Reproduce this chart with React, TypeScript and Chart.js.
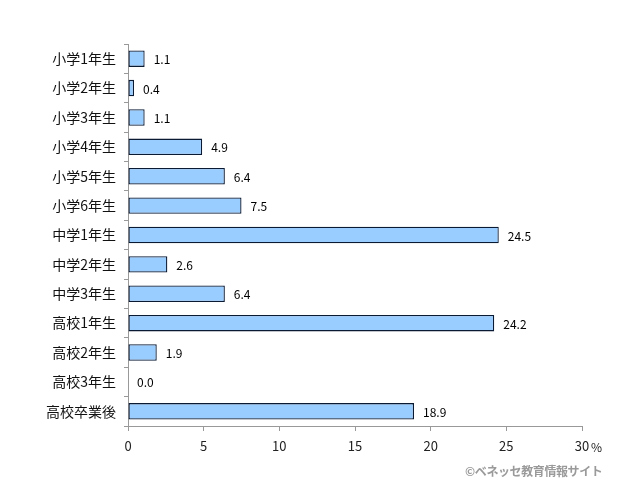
import React, { useEffect, useRef } from "react";
import { Chart, registerables } from "chart.js";

Chart.register(...registerables);

const categories = [
  "小学1年生", "小学2年生", "小学3年生", "小学4年生", "小学5年生", "小学6年生",
  "中学1年生", "中学2年生", "中学3年生", "高校1年生", "高校2年生", "高校3年生", "高校卒業後",
];
const values = [1.1, 0.4, 1.1, 4.9, 6.4, 7.5, 24.5, 2.6, 6.4, 24.2, 1.9, 0.0, 18.9];
const xTicks = [0, 5, 10, 15, 20, 25, 30];
const unitLabel = "%";
const credit = "©ベネッセ教育情報サイト";

const JP = "'Noto Sans CJK JP', 'DejaVu Sans', sans-serif";

const valueLabels = {
  id: "valueLabels",
  afterDatasetsDraw(chart: any) {
    const ctx = chart.ctx;
    const meta = chart.getDatasetMeta(0);
    ctx.save();
    ctx.font = `12px ${JP}`;
    ctx.fillStyle = "#000";
    ctx.textAlign = "left";
    ctx.textBaseline = "middle";
    meta.data.forEach((bar: any, i: number) => {
      ctx.fillText(values[i].toFixed(1), bar.x + 9, bar.y + 1);
    });
    const xs = chart.scales.x;
    const px = xs.getPixelForValue(30);
    ctx.font = `12px ${JP}`;
    ctx.fillStyle = "#222";
    ctx.fillText(unitLabel, px + 9, xs.top + 21);
    ctx.restore();
  },
};

export default function App() {
  const ref = useRef<HTMLCanvasElement>(null);
  useEffect(() => {
    document.body.style.margin = "0";
    const chart = new Chart(ref.current!, {
      type: "bar",
      data: {
        labels: categories,
        datasets: [
          {
            data: values,
            backgroundColor: "#99CCFF",
            borderColor: "#0A1A33",
            borderWidth: 1.3,
            borderSkipped: false,
            barPercentage: 0.56,
            categoryPercentage: 1,
          },
        ],
      },
      options: {
        indexAxis: "y",
        animation: false,
        responsive: false,
        maintainAspectRatio: false,
        layout: { padding: { top: 44, right: 58, left: 0, bottom: 0 } },
        plugins: { legend: { display: false }, tooltip: { enabled: false } },
        scales: {
          x: {
            min: 0,
            max: 30,
            afterBuildTicks(scale: any) {
              scale.ticks = xTicks.map((v) => ({ value: v }));
            },
            afterFit(scale: any) {
              scale.height = 71;
            },
            ticks: {
              color: "#222",
              font: { family: JP, size: 13 },
              padding: 7,
              maxRotation: 0,
            },
            grid: { display: true, drawOnChartArea: false, tickLength: 5, color: "#999" },
            border: { color: "#999" },
          },
          y: {
            afterFit(scale: any) {
              scale.width = 128;
            },
            ticks: {
              color: "#111",
              font: { family: JP, size: 14 },
              padding: 8,
            },
            grid: { display: true, drawOnChartArea: false, tickLength: 4, color: "#999", offset: true },
            border: { color: "#999" },
          },
        },
      },
      plugins: [valueLabels],
    });
    return () => chart.destroy();
  }, []);
  return (
    <div style={{ position: "relative", width: 640, height: 497, background: "#fff" }}>
      <canvas ref={ref} width={640} height={497} style={{ display: "block" }} />
      <div
        style={{
          position: "absolute",
          left: 465,
          top: 462,
          fontFamily: JP,
          fontSize: 12,
          letterSpacing: -0.4,
          color: "#9a9a9a",
          fontWeight: 700,
          whiteSpace: "nowrap",
        }}
      >
        {credit}
      </div>
    </div>
  );
}
